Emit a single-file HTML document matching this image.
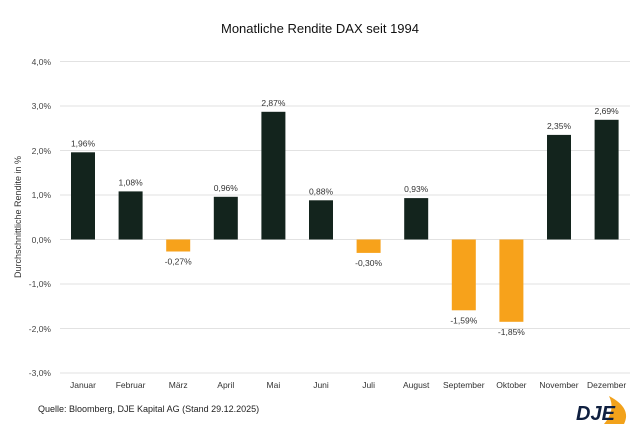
<!DOCTYPE html>
<html><head><meta charset="utf-8"><style>body{margin:0;background:#fff}svg{display:block;font-family:"Liberation Sans",sans-serif}</style></head><body>
<svg width="641" height="432" viewBox="0 0 641 432">
<rect width="641" height="432" fill="#fff"/>
<text x="320" y="33" font-size="13" text-anchor="middle" fill="#111">Monatliche Rendite DAX seit 1994</text>
<g stroke="#e2e2e2" stroke-width="1">
<line x1="60" x2="630" y1="61.5" y2="61.5"/><line x1="60" x2="630" y1="106" y2="106"/><line x1="60" x2="630" y1="150.5" y2="150.5"/><line x1="60" x2="630" y1="195" y2="195"/><line x1="60" x2="630" y1="239.5" y2="239.5"/><line x1="60" x2="630" y1="284" y2="284"/><line x1="60" x2="630" y1="328.5" y2="328.5"/><line x1="60" x2="630" y1="373" y2="373"/>
</g>
<g font-size="8.5" fill="#444" text-anchor="end">
<text x="51" y="65">4,0%</text><text x="51" y="109">3,0%</text><text x="51" y="154">2,0%</text><text x="51" y="198">1,0%</text><text x="51" y="243">0,0%</text><text x="51" y="287">-1,0%</text><text x="51" y="332">-2,0%</text><text x="51" y="376">-3,0%</text>
</g>
<text transform="translate(21,217) rotate(-90)" font-size="9" fill="#333" text-anchor="middle">Durchschnittliche Rendite in %</text>
<g fill="#13241d">
<rect x="71" y="152.3" width="24" height="87.2"/>
<rect x="118.6" y="191.4" width="24" height="48.1"/>
<rect x="213.8" y="196.8" width="24" height="42.7"/>
<rect x="261.4" y="111.8" width="24" height="127.7"/>
<rect x="309" y="200.3" width="24" height="39.2"/>
<rect x="404.2" y="198.1" width="24" height="41.4"/>
<rect x="547" y="134.9" width="24" height="104.6"/>
<rect x="594.6" y="119.8" width="24" height="119.7"/>
</g>
<g fill="#f7a21b">
<rect x="166.2" y="239.5" width="24" height="12"/>
<rect x="356.6" y="239.5" width="24" height="13.4"/>
<rect x="451.8" y="239.5" width="24" height="70.8"/>
<rect x="499.4" y="239.5" width="24" height="82.3"/>
</g>
<g font-size="8.5" fill="#333" text-anchor="middle">
<text x="83" y="146.3">1,96%</text>
<text x="130.6" y="185.4">1,08%</text>
<text x="178.2" y="264.5">-0,27%</text>
<text x="225.8" y="190.8">0,96%</text>
<text x="273.4" y="105.8">2,87%</text>
<text x="321" y="194.3">0,88%</text>
<text x="368.6" y="265.9">-0,30%</text>
<text x="416.2" y="192.1">0,93%</text>
<text x="463.8" y="323.3">-1,59%</text>
<text x="511.4" y="334.8">-1,85%</text>
<text x="559" y="128.9">2,35%</text>
<text x="606.6" y="113.8">2,69%</text>
</g>
<g font-size="8.5" fill="#333" text-anchor="middle">
<text x="83" y="388">Januar</text><text x="130.6" y="388">Februar</text><text x="178.2" y="388">März</text><text x="225.8" y="388">April</text><text x="273.4" y="388">Mai</text><text x="321" y="388">Juni</text><text x="368.6" y="388">Juli</text><text x="416.2" y="388">August</text><text x="463.8" y="388">September</text><text x="511.4" y="388">Oktober</text><text x="559" y="388">November</text><text x="606.6" y="388">Dezember</text>
</g>
<text x="38" y="412" font-size="9" fill="#222">Quelle: Bloomberg, DJE Kapital AG (Stand 29.12.2025)</text>
<path d="M609 396 Q632 408 624 424 L604 424 Q616 410 609 396Z" fill="#f2a21b"/>
<text x="576" y="420" font-size="20" font-weight="bold" font-style="italic" fill="#102040">DJE</text>
</svg>
</body></html>
